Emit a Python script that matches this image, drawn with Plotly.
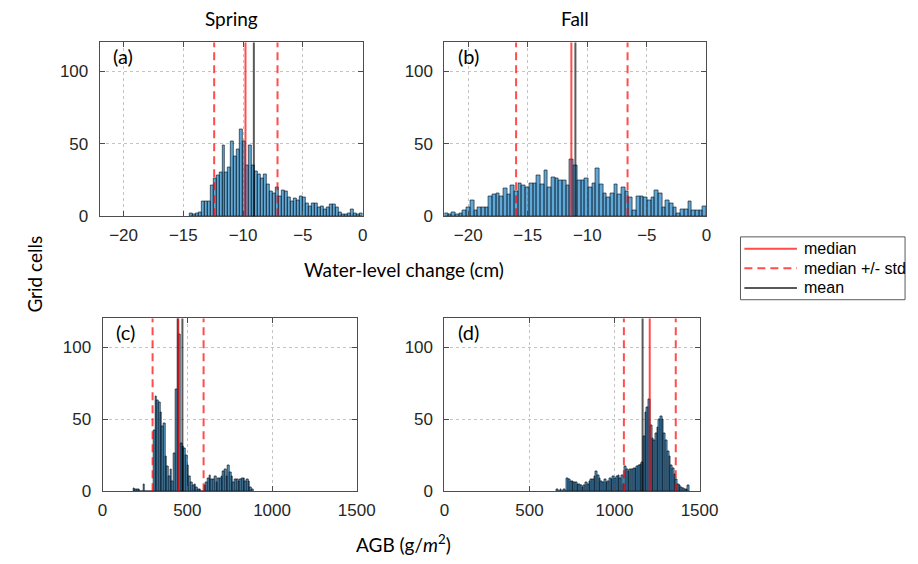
import plotly.graph_objects as go

# ---------------- data ----------------
# (a) Spring water-level change histogram (bin width 0.25 cm, first bin starts at -14.5)
a_start, a_width = -14.5, 0.25
a_counts = [2, 1, 2, 3, 10, 10, 10, 21, 26, 28,
            30, 49, 30, 34, 52, 41, 46, 60, 52, 35,
            49, 35, 31, 29, 26, 29, 22, 17, 16, 20,
            14, 18, 17, 13, 10, 12, 11, 14, 13, 9,
            7, 9, 9, 6, 7, 5, 6, 8, 8, 6,
            3, 1, 1, 2, 5, 2, 1, 2]
a_median, a_mean, a_lo, a_hi = -9.8, -9.1, -12.42, -7.12

# (b) Fall water-level change histogram (71 bins over -22..0)
b_start, b_width = -22.0, 22.0 / 71
b_counts = [2, 1, 3, 1, 2, 4, 6, 11, 4, 6,
            6, 6, 14, 15, 16, 14, 19, 15, 21, 17,
            23, 21, 20, 23, 23, 28, 22, 32, 20, 27,
            26, 25, 25, 21, 39, 35, 25, 25, 26, 20,
            23, 33, 22, 16, 13, 16, 22, 15, 20, 17,
            13, 4, 14, 14, 13, 11, 13, 18, 16, 6,
            11, 9, 6, 2, 5, 5, 10, 4, 4, 4, 7]
b_median, b_mean, b_lo, b_hi = -11.34, -11.0, -15.98, -6.62

# (c) Spring AGB histogram (bin width 10 g/m2, first bin starts at 180)
c_start, c_width = 180, 10
c_counts = [2, 1, 1, 1, 0, 0, 5, 0, 0, 0, 0, 0,
            42, 66, 63, 62, 55, 45, 47, 24, 17, 10, 15, 7, 26, 71, 138, 109,
            33, 31, 30, 25, 18, 10, 6, 4, 5, 3, 1, 1, 0, 0,
            4, 6, 9, 11, 8, 8, 10, 6, 9, 9, 10, 14, 15, 10, 18, 13, 10, 6,
            8, 8, 7, 8, 9, 9, 7, 8, 7, 3, 1]
c_median, c_mean, c_lo, c_hi = 447, 471, 295, 596

# (d) Fall AGB histogram (bin width 10 g/m2, first bin starts at 660)
d_start, d_width = 660, 10
d_counts = [1, 0, 1, 0, 1, 0,
            9, 8, 7, 7, 6, 6, 5, 5, 4, 3, 4, 6, 5, 7, 8, 8, 10, 14, 11, 9,
            7, 6, 8, 6, 7, 9, 8, 10, 9, 10, 11, 9, 11, 5,
            17, 15, 14, 15, 15, 16, 16, 17, 18, 19, 20,
            38, 55, 58, 64, 46, 37, 35, 40, 44, 50, 52, 50, 40, 35, 28, 24,
            18, 16, 12, 8, 5, 4, 3, 2, 1, 1, 4]
d_median, d_mean, d_lo, d_hi = 1207, 1165, 1055, 1360

wl_ticks = [-20, -15, -10, -5, 0]
agb_ticks = [0, 500, 1000, 1500]
y_ticks = [0, 50, 100]

titles = ["Spring", "Fall"]
panel_labels = ["(a)", "(b)", "(c)", "(d)"]
legend_labels = ["median", "median +/- std", "mean"]

# ---------------- layout helpers ----------------
W, H = 918, 564
def px(x):
    return x / W
def py(y):
    return 1 - y / H

BAR_FILL = "rgba(0,114,189,0.62)"
RED = "rgba(255,0,0,0.7)"
GREY = "rgba(0,0,0,0.65)"
AXC = "#4d4d4d"
TICKFONT = dict(family="Liberation Sans, Arial, sans-serif", size=17, color="#262626")
LABFONT = dict(family="Lato, Open Sans, sans-serif", size=19, color="#000000")

panels = [
    dict(counts=a_counts, start=a_start, width=a_width, stats=(a_median, a_mean, a_lo, a_hi),
         xr=[-22, 0], ticks=wl_ticks, box=(89, 359, 35, 212), edge=0.7),
    dict(counts=b_counts, start=b_start, width=b_width, stats=(b_median, b_mean, b_lo, b_hi),
         xr=[-22, 0], ticks=wl_ticks, box=(443, 712, 35, 212), edge=0.7),
    dict(counts=c_counts, start=c_start, width=c_width, stats=(c_median, c_mean, c_lo, c_hi),
         xr=[0, 1500], ticks=agb_ticks, box=(92, 353, 316, 492), edge=0.8),
    dict(counts=d_counts, start=d_start, width=d_width, stats=(d_median, d_mean, d_lo, d_hi),
         xr=[0, 1500], ticks=agb_ticks, box=(443, 705, 316, 492), edge=0.8),
]

fig = go.Figure()
shapes = []
annotations = []
layout = dict(width=W, height=H, margin=dict(l=0, r=0, t=0, b=0),
              paper_bgcolor="white", plot_bgcolor="white", showlegend=False,
              bargap=0)

for i, p in enumerate(panels):
    n = i + 1
    xa = "x" if n == 1 else f"x{n}"
    ya = "y" if n == 1 else f"y{n}"
    centers = [p["start"] + p["width"] * (k + 0.5) for k in range(len(p["counts"]))]
    fig.add_trace(go.Bar(x=centers, y=p["counts"], width=p["width"],
                         marker=dict(color=BAR_FILL,
                                     line=dict(color="rgba(10,20,30,0.9)", width=p["edge"])),
                         xaxis=xa, yaxis=ya, hoverinfo="x+y"))
    x0, x1, y0, y1 = p["box"]
    axis_common = dict(showline=True, linecolor=AXC, linewidth=1, mirror="allticks",
                       ticks="inside", ticklen=5, tickcolor=AXC, tickwidth=1,
                       showgrid=True, gridcolor="#c4c4c4", griddash="3px,3px", gridwidth=1,
                       zeroline=False, tickfont=TICKFONT)
    layout["xaxis" if n == 1 else f"xaxis{n}"] = dict(
        domain=[px(x0), px(x1)], range=p["xr"], tickvals=p["ticks"],
        anchor=ya, ticklabelstandoff=3, **axis_common)
    layout["yaxis" if n == 1 else f"yaxis{n}"] = dict(
        domain=[py(y1), py(y0)], range=[0, 120], tickvals=y_ticks,
        anchor=xa, ticklabelstandoff=7, **axis_common)
    med, mean, lo, hi = p["stats"]
    yref = f"{ya} domain"
    for xv, col, dash in [(lo, RED, "8px,5px"), (hi, RED, "8px,5px"),
                          (mean, GREY, "solid"), (med, RED, "solid")]:
        shapes.append(dict(type="line", xref=xa, yref=yref, x0=xv, x1=xv, y0=0, y1=1,
                           line=dict(color=col, width=2, dash=dash), layer="above"))
    annotations.append(dict(text=panel_labels[i], x=px(x0 + 12), y=py(y0 + 14),
                            xref="paper", yref="paper", xanchor="left", yanchor="middle",
                            showarrow=False, font=dict(family="Lato, Open Sans, sans-serif",
                                                       size=20, color="#000")))

# titles
annotations.append(dict(text=titles[0], x=px(224), y=py(11), xref="paper", yref="paper",
                        showarrow=False, font=LABFONT, xanchor="center", yanchor="middle"))
annotations.append(dict(text=titles[1], x=px(577), y=py(11), xref="paper", yref="paper",
                        showarrow=False, font=LABFONT, xanchor="center", yanchor="middle"))
# axis labels
annotations.append(dict(text="Water-level change (cm)", x=px(401), y=py(266), xref="paper",
                        yref="paper", showarrow=False, font=LABFONT, xanchor="center", yanchor="middle"))
annotations.append(dict(text="AGB (g/<i>m</i><sup>2</sup>)", x=px(401), y=py(545), xref="paper",
                        yref="paper", showarrow=False, font=LABFONT, xanchor="center", yanchor="middle"))
annotations.append(dict(text="Grid cells", x=px(22), y=py(271), xref="paper", yref="paper",
                        showarrow=False, font=LABFONT, textangle=-90, xanchor="center", yanchor="middle"))

# legend (drawn manually to match the boxed MATLAB legend)
LEG = dict(x0=747, x1=916, y0=233, y1=297)
shapes.append(dict(type="rect", xref="paper", yref="paper", x0=px(LEG["x0"]), x1=px(LEG["x1"]),
                   y0=py(LEG["y1"]), y1=py(LEG["y0"]), line=dict(color="#5a5a5a", width=1),
                   fillcolor="white", layer="above"))
leg_styles = [(RED, "solid"), (RED, "8px,5px"), (GREY, "solid")]
for j, (lab, (col, dash)) in enumerate(zip(legend_labels, leg_styles)):
    yy = 245 + 20 * j
    shapes.append(dict(type="line", xref="paper", yref="paper", x0=px(751), x1=px(805),
                       y0=py(yy), y1=py(yy), line=dict(color=col, width=2, dash=dash), layer="above"))
    annotations.append(dict(text=lab, x=px(810), y=py(yy), xref="paper", yref="paper",
                            showarrow=False, xanchor="left", yanchor="middle",
                            font=dict(family="Liberation Sans, Arial, sans-serif", size=16, color="#000")))

layout["shapes"] = shapes
layout["annotations"] = annotations
fig.update_layout(**layout)
fig.write_html("out.html")
